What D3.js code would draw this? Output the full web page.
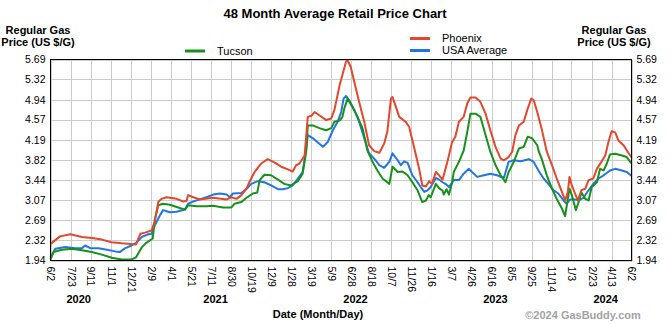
<!DOCTYPE html>
<html>
<head>
<meta charset="utf-8">
<script src="https://cdn.jsdelivr.net/npm/d3@7"></script>
<style>
  body { margin: 0; background: #fff; }
  svg { display: block; font-family: "Liberation Sans", Arial, sans-serif; }
</style>
</head>
<body>
<svg width="670" height="325"></svg>
<script>
// tick labels
var xTicks = ["2020-06-02","2020-07-23","2020-09-11","2020-11-01","2020-12-21","2021-02-09","2021-04-01","2021-05-21",
  "2021-07-11","2021-08-30","2021-10-19","2021-12-09","2022-01-28","2022-03-19","2022-05-09","2022-06-28","2022-08-18",
  "2022-10-07","2022-11-26","2023-01-16","2023-03-07","2023-04-26","2023-06-16","2023-08-05","2023-09-25","2023-11-14",
  "2024-01-03","2024-02-23","2024-04-13","2024-06-02"];
var yTicks = [1.94, 2.32, 2.69, 3.07, 3.44, 3.82, 4.19, 4.57, 4.94, 5.32, 5.69];
var years = ["2020", "2021", "2022", "2023", "2024"];
var yearDates = ["2020-08-12", "2021-07-22", "2022-07-09", "2023-06-26", "2024-03-29"];

// series
var tucson = [["2020-06-02",1.96],["2020-06-10",2.10],["2020-06-30",2.14],["2020-07-26",2.16],["2020-08-20",2.13],["2020-09-14",2.10],
  ["2020-10-09",2.05],["2020-11-03",1.99],["2020-11-28",1.96],["2020-12-23",1.96],["2021-01-03",2.00],["2021-01-18",2.19],
  ["2021-01-29",2.27],["2021-02-14",2.35],["2021-02-19",2.69],["2021-02-28",2.97],["2021-03-12",3.00],["2021-03-29",2.98],
  ["2021-04-23",2.92],["2021-05-06",2.89],["2021-05-14",2.97],["2021-06-04",2.95],["2021-06-29",2.95],["2021-07-16",2.96],
  ["2021-08-10",2.93],["2021-08-31",2.93],["2021-09-08",3.00],["2021-09-25",3.03],["2021-10-08",3.11],["2021-10-24",3.19],
  ["2021-11-04",3.21],["2021-11-10",3.44],["2021-11-22",3.54],["2021-12-09",3.53],["2021-12-26",3.45],["2022-01-11",3.37],
  ["2022-01-28",3.34],["2022-02-14",3.42],["2022-02-26",3.56],["2022-03-07",3.97],["2022-03-11",4.46],["2022-03-24",4.46],
  ["2022-04-09",4.41],["2022-04-26",4.37],["2022-05-09",4.41],["2022-05-17",4.53],["2022-05-30",4.55],["2022-06-06",4.62],
  ["2022-06-11",4.78],["2022-06-19",4.96],["2022-07-01",4.81],["2022-07-14",4.62],["2022-07-27",4.40],["2022-08-08",3.99],
  ["2022-08-21",3.78],["2022-09-02",3.62],["2022-09-15",3.47],["2022-10-02",3.37],["2022-10-10",3.69],["2022-10-23",3.59],
  ["2022-11-04",3.60],["2022-11-17",3.53],["2022-11-29",3.40],["2022-12-12",3.25],["2022-12-24",3.03],["2023-01-02",3.06],
  ["2023-01-09",3.16],["2023-01-14",3.12],["2023-01-27",3.37],["2023-02-04",3.29],["2023-02-13",3.24],["2023-02-16",3.17],
  ["2023-02-23",3.27],["2023-03-01",3.17],["2023-03-09",3.40],["2023-03-13",3.59],["2023-03-26",3.78],["2023-04-07",3.99],
  ["2023-04-16",4.34],["2023-04-24",4.68],["2023-05-07",4.68],["2023-05-19",4.62],["2023-06-01",4.28],["2023-06-13",3.97],
  ["2023-06-26",3.72],["2023-07-09",3.53],["2023-07-21",3.40],["2023-07-29",3.59],["2023-08-11",3.78],["2023-08-24",4.03],
  ["2023-09-05",4.06],["2023-09-15",4.25],["2023-09-26",4.22],["2023-10-09",4.09],["2023-10-13",3.97],["2023-10-20",3.84],
  ["2023-11-02",3.53],["2023-11-15",3.28],["2023-11-27",3.09],["2023-12-10",2.91],["2023-12-18",2.77],["2023-12-25",3.09],
  ["2023-12-29",3.28],["2024-01-04",3.16],["2024-01-14",2.88],["2024-01-21",3.03],["2024-01-28",3.21],["2024-02-07",3.09],
  ["2024-02-15",3.06],["2024-02-23",3.31],["2024-03-07",3.40],["2024-03-15",3.65],["2024-03-24",3.62],["2024-04-01",3.75],
  ["2024-04-09",3.92],["2024-04-22",3.93],["2024-05-09",3.90],["2024-05-21",3.87],["2024-06-02",3.75]];

var phoenix = [["2020-06-02",2.25],["2020-06-26",2.39],["2020-07-22",2.43],["2020-08-20",2.38],["2020-09-14",2.36],["2020-10-09",2.33],
  ["2020-11-03",2.28],["2020-11-28",2.26],["2021-01-03",2.24],["2021-01-14",2.44],["2021-01-26",2.46],["2021-02-11",2.50],
  ["2021-02-19",2.66],["2021-02-28",3.03],["2021-03-08",3.09],["2021-03-21",3.12],["2021-04-15",3.09],["2021-05-02",3.04],
  ["2021-05-10",3.05],["2021-05-14",3.16],["2021-05-27",3.12],["2021-06-12",3.08],["2021-07-16",3.11],["2021-08-19",3.08],
  ["2021-08-31",3.12],["2021-09-13",3.09],["2021-09-25",3.16],["2021-10-08",3.28],["2021-10-15",3.40],["2021-10-28",3.59],
  ["2021-11-14",3.75],["2021-11-30",3.83],["2021-12-17",3.77],["2022-01-03",3.69],["2022-01-20",3.64],["2022-02-01",3.60],
  ["2022-02-10",3.72],["2022-02-18",3.75],["2022-03-03",3.90],["2022-03-11",4.62],["2022-03-20",4.64],["2022-03-28",4.71],
  ["2022-04-09",4.65],["2022-04-26",4.56],["2022-05-09",4.59],["2022-05-17",4.75],["2022-05-30",5.21],["2022-06-06",5.40],
  ["2022-06-15",5.65],["2022-06-19",5.68],["2022-06-27",5.55],["2022-07-06",5.27],["2022-07-18",4.90],["2022-07-31",4.53],
  ["2022-08-12",4.09],["2022-08-25",3.98],["2022-09-07",3.95],["2022-09-19",4.12],["2022-09-27",4.34],["2022-10-06",4.96],
  ["2022-10-10",4.99],["2022-10-17",4.84],["2022-10-27",4.62],["2022-11-12",4.53],["2022-11-21",4.43],["2022-12-04",4.03],
  ["2022-12-16",3.65],["2022-12-24",3.34],["2023-01-02",3.32],["2023-01-10",3.42],["2023-01-17",3.37],["2023-01-27",3.59],
  ["2023-02-04",3.53],["2023-02-13",3.45],["2023-02-25",3.78],["2023-03-09",4.15],["2023-03-17",4.25],["2023-03-26",4.53],
  ["2023-04-07",4.62],["2023-04-16",4.87],["2023-04-24",4.98],["2023-05-07",4.98],["2023-05-19",4.90],["2023-06-01",4.68],
  ["2023-06-13",4.37],["2023-06-26",4.06],["2023-07-09",3.84],["2023-07-17",3.81],["2023-07-29",3.87],["2023-08-07",3.97],
  ["2023-08-15",4.28],["2023-08-24",4.46],["2023-09-05",4.53],["2023-09-14",4.75],["2023-09-24",4.96],["2023-09-30",4.93],
  ["2023-10-09",4.71],["2023-10-13",4.60],["2023-10-20",4.40],["2023-11-02",3.97],["2023-11-15",3.72],["2023-11-27",3.47],
  ["2023-12-10",3.22],["2023-12-18",3.06],["2023-12-25",3.22],["2023-12-29",3.50],["2024-01-04",3.34],["2024-01-12",3.19],
  ["2024-01-19",3.06],["2024-01-28",3.25],["2024-02-07",3.28],["2024-02-15",3.44],["2024-02-27",3.47],["2024-03-07",3.65],
  ["2024-03-19",3.79],["2024-03-28",3.90],["2024-04-05",4.15],["2024-04-13",4.35],["2024-04-22",4.33],["2024-04-30",4.18],
  ["2024-05-13",4.09],["2024-05-25",3.95],["2024-06-02",3.87]];

var usa = [["2020-06-02",2.00],["2020-06-14",2.16],["2020-07-09",2.19],["2020-08-03",2.17],["2020-08-20",2.17],["2020-08-28",2.22],
  ["2020-09-10",2.17],["2020-10-01",2.17],["2020-10-22",2.14],["2020-11-12",2.11],["2020-11-24",2.10],["2020-12-07",2.17],
  ["2020-12-23",2.22],["2021-01-05",2.28],["2021-01-18",2.38],["2021-02-03",2.43],["2021-02-11",2.44],["2021-02-19",2.59],
  ["2021-03-04",2.78],["2021-03-12",2.88],["2021-03-29",2.84],["2021-04-15",2.85],["2021-05-06",2.89],["2021-05-14",3.00],
  ["2021-05-27",3.04],["2021-06-12",3.08],["2021-06-29",3.12],["2021-07-16",3.17],["2021-08-02",3.19],["2021-08-19",3.17],
  ["2021-08-27",3.12],["2021-09-04",3.19],["2021-09-25",3.20],["2021-10-08",3.28],["2021-10-20",3.37],["2021-11-05",3.42],
  ["2021-11-22",3.40],["2021-12-09",3.34],["2021-12-26",3.27],["2022-01-07",3.27],["2022-01-20",3.29],["2022-02-01",3.34],
  ["2022-02-14",3.47],["2022-02-26",3.59],["2022-03-07",4.03],["2022-03-11",4.28],["2022-03-24",4.22],["2022-04-09",4.12],
  ["2022-04-18",4.06],["2022-04-30",4.15],["2022-05-13",4.37],["2022-05-25",4.53],["2022-06-03",4.71],["2022-06-09",4.96],
  ["2022-06-15",5.01],["2022-06-23",4.93],["2022-07-06",4.75],["2022-07-18",4.53],["2022-07-31",4.22],["2022-08-12",3.94],
  ["2022-08-25",3.84],["2022-09-07",3.72],["2022-09-19",3.67],["2022-10-02",3.78],["2022-10-10",3.94],["2022-10-23",3.81],
  ["2022-10-31",3.72],["2022-11-08",3.79],["2022-11-17",3.76],["2022-11-29",3.53],["2022-12-12",3.40],["2022-12-20",3.31],
  ["2022-12-29",3.22],["2023-01-06",3.25],["2023-01-14",3.31],["2023-01-27",3.48],["2023-02-04",3.45],["2023-02-13",3.40],
  ["2023-02-20",3.37],["2023-03-01",3.31],["2023-03-13",3.44],["2023-03-26",3.44],["2023-04-07",3.56],["2023-04-20",3.65],
  ["2023-04-28",3.59],["2023-05-11",3.50],["2023-05-28",3.53],["2023-06-13",3.56],["2023-06-30",3.53],["2023-07-17",3.48],
  ["2023-07-29",3.78],["2023-08-11",3.81],["2023-08-28",3.79],["2023-09-18",3.83],["2023-09-30",3.78],["2023-10-12",3.62],
  ["2023-10-25",3.47],["2023-11-06",3.37],["2023-11-19",3.25],["2023-12-01",3.19],["2023-12-14",3.06],["2023-12-22",3.00],
  ["2023-12-31",3.08],["2024-01-12",3.08],["2024-01-21",3.06],["2024-02-02",3.11],["2024-02-15",3.25],["2024-02-27",3.37],
  ["2024-03-11",3.47],["2024-03-24",3.53],["2024-04-09",3.62],["2024-04-22",3.65],["2024-05-09",3.62],["2024-05-21",3.59],
  ["2024-06-02",3.52]];

var svg = d3.select("svg");
var parse = d3.utcParse("%Y-%m-%d");
var fmtDay = d3.utcFormat("%-m/%-d");

var x = d3.scaleUtc()
    .domain([parse(xTicks[0]), parse(xTicks[xTicks.length - 1])])
    .range([50.5, 631.5]);

var y = d3.scaleLinear()
    .domain([yTicks[0], yTicks[yTicks.length - 1]])
    .range([260.5, 59.5]);

var xDates = xTicks.map(parse);

// grid
svg.append("g")
    .attr("class", "grid")
    .attr("transform", "translate(0,260.5)")
    .call(d3.axisBottom(x).tickValues(xDates).tickSize(-201).tickFormat(""));

svg.append("g")
    .attr("class", "grid")
    .attr("transform", "translate(50.5,0)")
    .call(d3.axisLeft(y).tickValues(yTicks).tickSize(-581).tickFormat(""));

svg.selectAll(".grid .domain").remove();
svg.selectAll(".grid line")
    .attr("stroke", "#cccccc")
    .attr("shape-rendering", "crispEdges");

// lines
var line = d3.line()
    .x(d => x(parse(d[0])))
    .y(d => y(d[1]));

var series = [
    { name: "USA Average", data: usa, color: "#1f77e4" },
    { name: "Tucson", data: tucson, color: "#17901a" },
    { name: "Phoenix", data: phoenix, color: "#e4472b" }
];

svg.append("g")
    .selectAll("path")
    .data(series)
    .enter().append("path")
        .attr("fill", "none")
        .attr("stroke", d => d.color)
        .attr("stroke-width", 2)
        .attr("stroke-linejoin", "round")
        .attr("d", d => line(d.data));

// frame
svg.append("rect")
    .attr("x", 50.5).attr("y", 59.5)
    .attr("width", 581).attr("height", 201)
    .attr("fill", "none")
    .attr("stroke", "#000")
    .attr("shape-rendering", "crispEdges");

// axes labels
var fmtY = d3.format(".2f");

var yl = svg.append("g")
    .attr("transform", "translate(50.5,0)")
    .call(d3.axisLeft(y).tickValues(yTicks).tickSize(0).tickPadding(5).tickFormat(fmtY));
var yr = svg.append("g")
    .attr("transform", "translate(631.5,0)")
    .call(d3.axisRight(y).tickValues(yTicks).tickSize(0).tickPadding(5).tickFormat(fmtY));

var xb = svg.append("g")
    .attr("transform", "translate(0,260.5)")
    .call(d3.axisBottom(x).tickValues(xDates).tickSize(0).tickFormat(fmtDay));

xb.selectAll("text")
    .attr("transform", "rotate(90)")
    .attr("x", 6)
    .attr("y", 0)
    .attr("dy", "0.35em")
    .style("text-anchor", "start");

[yl, yr, xb].forEach(a => {
    a.select(".domain").remove();
    a.attr("font-family", null).attr("font-size", null);
    a.selectAll("text").attr("font-size", "10.5px").attr("fill", "#000");
});

// years
svg.append("g")
    .selectAll("text")
    .data(years)
    .enter().append("text")
        .attr("x", (d, i) => x(parse(yearDates[i])))
        .attr("y", 303)
        .attr("text-anchor", "middle")
        .attr("font-size", "11px")
        .attr("font-weight", "bold")
        .text(d => d);

// titles
svg.append("text")
    .attr("x", 335).attr("y", 18)
    .attr("text-anchor", "middle")
    .attr("font-size", "13px").attr("font-weight", "bold")
    .text("48 Month Average Retail Price Chart");

[38, 614].forEach(cx => {
    var t = svg.append("text")
        .attr("text-anchor", "middle")
        .attr("font-size", "11px").attr("font-weight", "bold");
    t.append("tspan").attr("x", cx).attr("y", 34).text("Regular Gas");
    t.append("tspan").attr("x", cx).attr("y", 45.5).text("Price (US $/G)");
});

svg.append("text")
    .attr("x", 318).attr("y", 318)
    .attr("text-anchor", "middle")
    .attr("font-size", "11px").attr("font-weight", "bold")
    .text("Date (Month/Day)");

svg.append("text")
    .attr("x", 583).attr("y", 319)
    .attr("text-anchor", "middle")
    .attr("font-size", "11px").attr("font-weight", "bold")
    .attr("fill", "#a3a3a3")
    .text("\u00a92024 GasBuddy.com");

// legend
var legendPos = { "Tucson": [185, 51], "Phoenix": [410, 38.5], "USA Average": [410, 50.5] };

var legend = svg.append("g")
    .selectAll("g")
    .data(series)
    .enter().append("g")
        .attr("transform", d => `translate(${legendPos[d.name][0]}, ${legendPos[d.name][1]})`);

legend.append("line")
    .attr("x1", 0).attr("x2", 20)
    .attr("stroke", d => d.color)
    .attr("stroke-width", 3);

legend.append("text")
    .attr("x", 32)
    .attr("dy", "0.35em")
    .attr("font-size", "11px")
    .text(d => d.name);
</script>
</body>
</html>
